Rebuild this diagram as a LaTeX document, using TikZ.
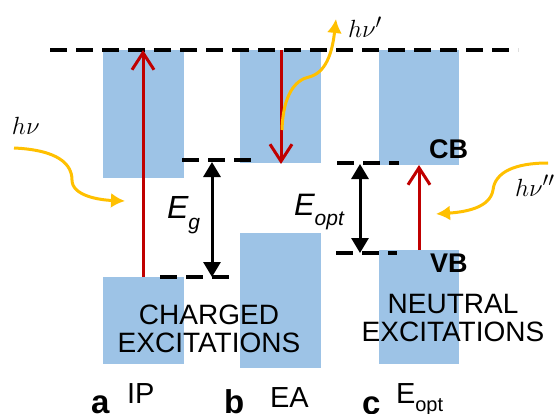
\documentclass[tikz,border=0pt]{standalone}
\usepackage{fontspec}
\setmainfont{Liberation Sans}
\usetikzlibrary{arrows.meta}
\definecolor{bandblue}{HTML}{9DC3E6}
\definecolor{exred}{HTML}{C00000}
\definecolor{phot}{HTML}{FFC000}
\newcommand{\fs}[1]{\fontsize{#1}{#1}\selectfont}
\begin{document}
\begin{tikzpicture}[x=1pt,y=-1pt,
  band/.style={fill=bandblue, draw=none, inner sep=0pt, outer sep=0pt, anchor=north west},
  lvl/.style={line width=3.5pt, dash pattern=on 17pt off 9pt},
  exc/.style={draw=exred, line width=3pt, -{Straight Barb[length=17pt,width=22pt]}},
  gaparr/.style={line width=3pt, {Triangle[length=15pt,width=17pt]}-{Triangle[length=15pt,width=17pt]}},
  photon/.style={draw=phot, line width=3pt, -{Latex[length=14pt,width=15pt]}},
  txt/.style={inner sep=0pt, outer sep=0pt},
  body/.style={txt, font=\fs{28}, align=center},
  panel/.style={txt, anchor=base west, font=\fs{33}\bfseries},
  bandlbl/.style={txt, anchor=base west, font=\fs{27}\bfseries},
  hv/.style={txt, anchor=base west, font=\fs{32}}]
\useasboundingbox (0,0) rectangle (556,414);
% bands
\node[band, minimum width=81pt, minimum height=128pt] (aT) at (103,50) {};
\node[band, minimum width=81pt, minimum height=87pt]  (aB) at (103,277) {};
\node[band, minimum width=81pt, minimum height=113pt] (bT) at (240,50) {};
\node[band, minimum width=81pt, minimum height=135pt] (bB) at (240,233) {};
\node[band, minimum width=80pt, minimum height=115pt] (cT) at (379,50) {};
\node[band, minimum width=80pt, minimum height=114pt] (cB) at (379,250) {};
% levels
\coordinate (t1) at (50,50);   \coordinate (t2) at (518,50);
\coordinate (g1) at (182,160); \coordinate (g2) at (252,160);
\coordinate (g3) at (160,277); \coordinate (g4) at (230,277);
\coordinate (o1) at (337,163); \coordinate (o2) at (399,163);
\coordinate (o3) at (336,253); \coordinate (o4) at (397,253);
\draw[lvl] (t1) -- (t2);
\draw[lvl] (g1) -- (g2);
\draw[lvl] (g3) -- (g4);
\draw[lvl] (o1) -- (o2);
\draw[lvl] (o3) -- (o4);
% gap arrows
\coordinate (eg1) at (212,162); \coordinate (eg2) at (212,277);
\coordinate (eo1) at (360,164); \coordinate (eo2) at (360,253);
\draw[gaparr] (eg1) -- (eg2);
\draw[gaparr] (eo1) -- (eo2);
% excitations
\coordinate (ra1) at (143,277); \coordinate (ra2) at (143,50);
\coordinate (rb1) at (281,50);  \coordinate (rb2) at (281,164);
\coordinate (rc1) at (419,250); \coordinate (rc2) at (419,165);
\draw[exc] (ra1) -- (ra2);
\draw[exc] (rb1) -- (rb2);
\draw[exc] (rc1) -- (rc2);
% photons
\coordinate (p1s) at (14,148);  \coordinate (p1e) at (125,201);
\coordinate (p2s) at (282,130); \coordinate (p2e) at (336,19);
\coordinate (p3s) at (548,163); \coordinate (p3e) at (436,214);
\draw[photon] (p1s) .. controls (58,150) and (72,164) .. (72,180) .. controls (72,196) and (100,200) .. (p1e);
\draw[photon] (p2s) .. controls (283,95) and (295,80) .. (309,77) .. controls (325,73) and (332,55) .. (p2e);
\draw[photon] (p3s) .. controls (515,163) and (495,172) .. (493,190) .. controls (490,208) and (465,212) .. (p3e);
% labels
\node[hv] (hv1) at (12,135) {$h\nu$};
\node[hv] (hv2) at (348,38) {$h\nu'$};
\node[hv] (hv3) at (515,196) {$h\nu''$};
\node[bandlbl] (cb) at (429,159) {CB};
\node[bandlbl] (vb) at (430,272) {VB};
\node[txt, anchor=base west, font=\fs{32}\itshape] (Eg) at (167,218) {E\raisebox{-11pt}{\fs{21}g}};
\node[txt, anchor=base west, font=\fs{31}\itshape] (Eo) at (294,215) {E\raisebox{-10pt}{\fs{21}opt}};
\node[body] (chg) at (209,329) {CHARGED\\EXCITATIONS};
\node[body] (neu) at (453,318) {NEUTRAL\\EXCITATIONS};
\node[panel] (pa) at (91,413) {a};
\node[panel] (pb) at (224,413) {b};
\node[panel] (pc) at (362,414) {c};
\node[txt, anchor=base west, font=\fs{29}] (ip) at (127,403) {IP};
\node[txt, anchor=base west, font=\fs{29}] (ea) at (270,407) {EA};
\node[txt, anchor=base west, font=\fs{29}] (eopt) at (396,403) {E\raisebox{-8pt}{\fs{20}opt}};
\end{tikzpicture}
\end{document}
